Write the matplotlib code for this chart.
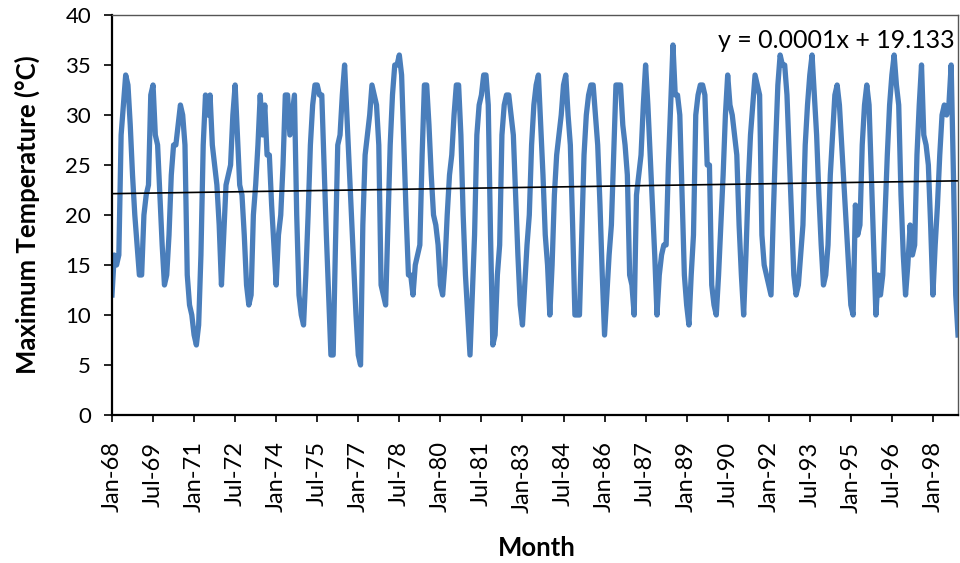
import matplotlib
matplotlib.use("Agg")
import matplotlib.pyplot as plt
import numpy as np
import pandas as pd

# monthly maximum temperature (°C), Jan 1968 - Dec 1998, one row per year
tmax = [
    12, 16, 15, 16, 28, 31, 34, 33, 29, 24, 20, 17,   # 1968
    14, 14, 20, 22, 23, 32, 33, 28, 27, 22, 17, 13,   # 1969
    14, 18, 24, 27, 27, 29, 31, 30, 27, 14, 11, 10,   # 1970
    8, 7, 9, 16, 27, 32, 30, 32, 27, 25, 23, 19,      # 1971
    13, 18, 23, 24, 25, 30, 33, 28, 23, 22, 18, 13,   # 1972
    11, 12, 20, 23, 27, 32, 28, 31, 26, 26, 21, 17,   # 1973
    13, 18, 20, 25, 32, 32, 28, 30, 32, 20, 12, 10,   # 1974
    9, 14, 20, 27, 31, 33, 33, 32, 32, 25, 18, 12,    # 1975
    6, 6, 17, 27, 28, 32, 35, 30, 25, 20, 15, 10,     # 1976
    6, 5, 19, 26, 28, 30, 33, 32, 31, 27, 13, 12,     # 1977
    11, 19, 27, 32, 35, 35, 36, 34, 27, 20, 14, 14,   # 1978
    12, 15, 16, 17, 26, 33, 33, 29, 24, 20, 19, 17,   # 1979
    13, 12, 15, 20, 24, 26, 30, 33, 33, 28, 20, 14,   # 1980
    10, 6, 12, 18, 28, 31, 32, 34, 34, 31, 18, 7,     # 1981
    8, 14, 17, 28, 31, 32, 32, 30, 28, 22, 16, 11,    # 1982
    9, 13, 17, 20, 27, 31, 33, 34, 29, 24, 18, 15,    # 1983
    10, 15, 22, 26, 28, 30, 33, 34, 30, 27, 19, 10,   # 1984
    10, 10, 18, 26, 30, 32, 33, 33, 30, 27, 21, 14,   # 1985
    8, 12, 16, 19, 26, 33, 33, 33, 29, 27, 24, 14,    # 1986
    13, 10, 22, 24, 26, 31, 35, 31, 26, 21, 16, 10,   # 1987
    14, 16, 17, 17, 25, 31, 37, 32, 32, 30, 22, 14,   # 1988
    11, 9, 14, 18, 30, 32, 33, 33, 32, 25, 25, 13,    # 1989
    11, 10, 14, 19, 24, 30, 34, 31, 30, 28, 26, 19,   # 1990
    14, 10, 16, 23, 28, 31, 34, 33, 32, 18, 15, 14,   # 1991
    13, 12, 20, 27, 33, 36, 35, 35, 32, 26, 20, 14,   # 1992
    12, 13, 16, 19, 27, 31, 34, 36, 32, 28, 22, 17,   # 1993
    13, 14, 17, 24, 28, 32, 33, 31, 27, 23, 19, 15,   # 1994
    11, 10, 21, 18, 19, 27, 31, 33, 31, 24, 17, 10,   # 1995
    14, 12, 14, 20, 26, 31, 34, 36, 33, 31, 22, 16,   # 1996
    12, 15, 19, 16, 17, 26, 31, 35, 28, 27, 25, 19,   # 1997
    12, 17, 21, 26, 30, 31, 30, 31, 35, 24, 12, 8,    # 1998
]

tick_labels = ["Jan-68", "Jul-69", "Jan-71", "Jul-72", "Jan-74", "Jul-75",
               "Jan-77", "Jul-78", "Jan-80", "Jul-81", "Jan-83", "Jul-84",
               "Jan-86", "Jul-87", "Jan-89", "Jul-90", "Jan-92", "Jul-93",
               "Jan-95", "Jul-96", "Jan-98"]
trend_label = "y = 0.0001x + 19.133"

dates = pd.date_range("1968-01-01", periods=len(tmax), freq="MS")
months = np.arange(len(tmax))

# linear trend fitted against spreadsheet day serials
serial = (dates - pd.Timestamp("1899-12-30")).days.values
slope, intercept = np.polyfit(serial, tmax, 1)
trend = slope * serial + intercept

plt.rcParams["font.family"] = ["Lato", "DejaVu Sans"]

fig = plt.figure(figsize=(9.6, 5.63), dpi=100)
ax = fig.add_axes([112 / 960, 148 / 563, 846 / 960, 400 / 563])

ax.plot(months, tmax, color="#4A7EBB", lw=3.8, solid_joinstyle="round")
ax.plot(months, trend, color="black", lw=1.2)

ax.set_xlim(0, len(tmax) - 1)
ax.set_ylim(0, 40)
ax.set_yticks(range(0, 41, 5))
ax.set_xticks(months[::18])
ax.set_xticklabels(tick_labels, rotation=90, fontsize=17)
ax.tick_params(axis="y", labelsize=16, length=6, width=1.2, direction="out", pad=9)
ax.tick_params(axis="x", length=5, width=1.2, direction="out", pad=14)

for side in ("left", "bottom"):
    ax.spines[side].set_linewidth(1.6)
for side in ("top", "right"):
    ax.spines[side].set_linewidth(1.0)
    ax.spines[side].set_color("#555555")

fig.text(27 / 960, 1 - 215 / 563, "Maximum Temperature (°C)", rotation=90,
         ha="center", va="center", fontsize=18.5, fontweight="bold")
fig.text(537 / 960, 1 - 548 / 563, "Month", ha="center", va="center",
         fontsize=18.5, fontweight="bold")

ax.text(0.9965, 0.935, trend_label, transform=ax.transAxes, ha="right",
        va="center", fontsize=18)

fig.savefig("out.png", dpi=100)
